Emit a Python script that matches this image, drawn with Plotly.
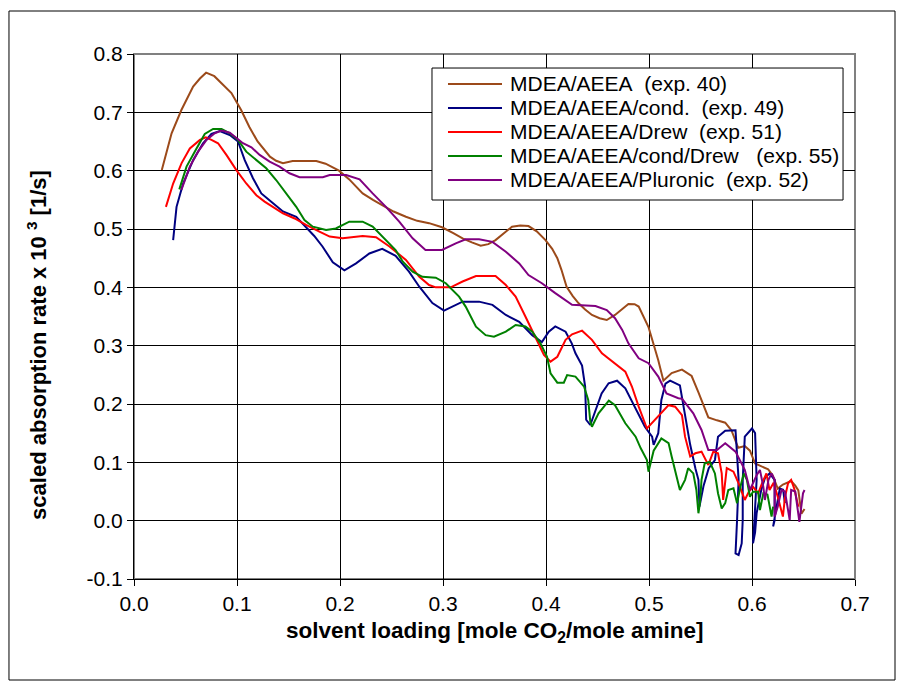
import plotly.graph_objects as go

# ---------------- data ----------------
names = [
    "MDEA/AEEA\u00a0\u00a0(exp. 40)",
    "MDEA/AEEA/cond.\u00a0\u00a0(exp. 49)",
    "MDEA/AEEA/Drew\u00a0\u00a0(exp. 51)",
    "MDEA/AEEA/cond/Drew\u00a0\u00a0\u00a0(exp. 55)",
    "MDEA/AEEA/Pluronic\u00a0\u00a0(exp. 52)",
]
colors = ["#9C4A1A", "#000080", "#FF0000", "#008000", "#800080"]

exp40 = [(0.027,0.601),(0.0365,0.664),(0.046,0.704),(0.0574,0.744),(0.064,0.758),(0.070,0.768),(0.078,0.762),(0.085,0.75),(0.0946,0.733),(0.104,0.704),(0.112,0.675),(0.12,0.65),(0.127,0.635),(0.132,0.624),(0.138,0.617),(0.1446,0.6127),(0.154,0.6167),(0.165,0.6167),(0.177,0.6167),(0.186,0.612),(0.193,0.606),(0.199,0.600),(0.209,0.585),(0.222,0.561),(0.232,0.550),(0.241,0.541),(0.252,0.530),(0.264,0.521),(0.275,0.514),(0.2865,0.51),(0.299,0.503),(0.310,0.493),(0.319,0.484),(0.328,0.477),(0.3366,0.4715),(0.344,0.474),(0.351,0.481),(0.360,0.494),(0.367,0.504),(0.375,0.506),(0.383,0.505),(0.391,0.496),(0.3995,0.481),(0.406,0.466),(0.411,0.45),(0.415,0.43),(0.420,0.401),(0.426,0.385),(0.4317,0.3727),(0.438,0.362),(0.4446,0.3527),(0.452,0.347),(0.459,0.344),(0.467,0.3527),(0.474,0.363),(0.480,0.3715),(0.486,0.371),(0.49,0.367),(0.4995,0.332),(0.509,0.275),(0.514,0.240),(0.522,0.253),(0.532,0.259),(0.5414,0.248),(0.548,0.22),(0.5576,0.177),(0.566,0.172),(0.574,0.168),(0.580,0.155),(0.5866,0.125),(0.593,0.128),(0.598,0.12),(0.603,0.098),(0.610,0.092),(0.6157,0.088),(0.620,0.078),(0.625,0.055),(0.630,0.062),(0.638,0.068),(0.642,0.06),(0.645,0.052),(0.648,0.012),(0.651,0.02)]

exp49 = [(0.038,0.481),(0.0413,0.538),(0.0477,0.578),(0.0574,0.618),(0.067,0.647),(0.0752,0.663),(0.0833,0.668),(0.093,0.661),(0.101,0.65),(0.1075,0.618),(0.1155,0.587),(0.1236,0.561),(0.135,0.544),(0.1446,0.53),(0.1575,0.521),(0.167,0.504),(0.175,0.488),(0.183,0.47),(0.193,0.443),(0.2043,0.429),(0.2156,0.441),(0.2285,0.458),(0.241,0.466),(0.254,0.454),(0.267,0.427),(0.277,0.401),(0.2897,0.373),(0.301,0.36),(0.310,0.368),(0.319,0.3755),(0.335,0.3755),(0.348,0.37),(0.361,0.3527),(0.374,0.341),(0.3866,0.318),(0.396,0.306),(0.4027,0.324),(0.409,0.333),(0.419,0.324),(0.425,0.304),(0.4286,0.287),(0.435,0.266),(0.438,0.23),(0.439,0.173),(0.443,0.164),(0.448,0.19),(0.454,0.218),(0.4608,0.2355),(0.469,0.24),(0.477,0.227),(0.4866,0.195),(0.496,0.161),(0.503,0.144),(0.5045,0.13),(0.509,0.15),(0.512,0.207),(0.516,0.235),(0.5205,0.240),(0.530,0.232),(0.535,0.184),(0.54,0.13),(0.545,0.09),(0.548,0.07),(0.549,0.024),(0.553,0.06),(0.558,0.09),(0.564,0.104),(0.567,0.144),(0.574,0.154),(0.584,0.155),(0.5855,0.115),(0.587,0.07),(0.5855,0.001),(0.584,-0.056),(0.587,-0.059),(0.59,-0.039),(0.591,0.001),(0.591,0.07),(0.593,0.144),(0.6,0.158),(0.603,0.15),(0.6045,0.07),(0.602,-0.01),(0.601,-0.039),(0.603,-0.02),(0.6045,0.013),(0.609,0.053),(0.6125,0.073),(0.617,0.081),(0.622,0.07),(0.622,0.001),(0.6205,-0.01),(0.625,0.035),(0.627,0.055),(0.6302,0.053),(0.632,0.03)]

exp51 = [(0.031,0.538),(0.038,0.578),(0.0462,0.613),(0.0542,0.638),(0.064,0.6527),(0.0697,0.657),(0.0752,0.6527),(0.0816,0.647),(0.0897,0.627),(0.0994,0.601),(0.109,0.578),(0.1188,0.558),(0.1268,0.547),(0.1365,0.5356),(0.1446,0.527),(0.156,0.518),(0.167,0.507),(0.18,0.4955),(0.19,0.487),(0.2026,0.484),(0.212,0.486),(0.222,0.488),(0.235,0.486),(0.248,0.47),(0.264,0.447),(0.277,0.418),(0.2865,0.404),(0.293,0.40),(0.3075,0.40),(0.319,0.41),(0.332,0.4195),(0.351,0.4195),(0.361,0.404),(0.3705,0.384),(0.380,0.35),(0.3898,0.3155),(0.398,0.284),(0.4044,0.2726),(0.411,0.281),(0.419,0.31),(0.4253,0.3195),(0.435,0.3257),(0.4446,0.31),(0.4543,0.287),(0.467,0.27),(0.477,0.2555),(0.4834,0.23),(0.49,0.1954),(0.498,0.158),(0.506,0.1726),(0.519,0.198),(0.5254,0.1954),(0.532,0.181),(0.535,0.144),(0.54,0.11),(0.545,0.1155),(0.551,0.1183),(0.5576,0.0955),(0.5624,0.1183),(0.567,0.1155),(0.5706,0.081),(0.572,0.0355),(0.5755,0.09),(0.582,0.084),(0.587,0.064),(0.593,0.0355),(0.597,0.05),(0.601,0.058),(0.606,0.047),(0.610,0.065),(0.614,0.081),(0.617,0.0526),(0.621,0.065),(0.625,0.041),(0.630,0.007),(0.632,0.04),(0.635,0.064),(0.638,0.07),(0.641,0.055),(0.645,0.024)]

exp55 = [(0.044,0.568),(0.051,0.607),(0.0607,0.638),(0.0687,0.663),(0.0768,0.6715),(0.085,0.6715),(0.093,0.664),(0.101,0.6527),(0.109,0.6326),(0.1188,0.618),(0.1284,0.604),(0.138,0.584),(0.1478,0.561),(0.1575,0.538),(0.1655,0.5155),(0.1736,0.504),(0.1865,0.4984),(0.196,0.501),(0.209,0.5126),(0.222,0.5126),(0.2317,0.504),(0.241,0.487),(0.254,0.464),(0.261,0.444),(0.2705,0.427),(0.280,0.418),(0.293,0.4166),(0.3027,0.407),(0.3156,0.384),(0.322,0.367),(0.332,0.3326),(0.3414,0.318),(0.3495,0.3155),(0.361,0.324),(0.3705,0.3355),(0.380,0.333),(0.3866,0.324),(0.3946,0.304),(0.401,0.281),(0.4044,0.2527),(0.411,0.2366),(0.4173,0.2366),(0.4205,0.2497),(0.4286,0.247),(0.437,0.2297),(0.441,0.207),(0.443,0.17),(0.4446,0.161),(0.451,0.184),(0.461,0.2057),(0.467,0.198),(0.477,0.167),(0.487,0.144),(0.492,0.124),(0.498,0.104),(0.4995,0.084),(0.5045,0.12),(0.512,0.141),(0.519,0.133),(0.522,0.11),(0.5285,0.06),(0.530,0.0526),(0.535,0.07),(0.538,0.09),(0.543,0.081),(0.546,0.0526),(0.548,0.0127),(0.5494,0.03),(0.551,0.07),(0.554,0.098),(0.559,0.101),(0.564,0.081),(0.567,0.047),(0.5706,0.021),(0.574,0.03),(0.577,0.0526),(0.582,0.0555),(0.5855,0.03),(0.589,0.06),(0.592,0.081),(0.595,0.07),(0.598,0.041),(0.601,0.0497),(0.606,0.0497),(0.6077,0.018),(0.611,0.047),(0.615,0.045),(0.619,0.007),(0.6205,0.024)]

exp52 = [(0.046,0.567),(0.0542,0.607),(0.0622,0.6326),(0.0704,0.6527),(0.0784,0.664),(0.085,0.6687),(0.093,0.665),(0.0994,0.6556),(0.1058,0.647),(0.114,0.64),(0.122,0.627),(0.1317,0.6155),(0.1413,0.607),(0.151,0.5955),(0.1607,0.5887),(0.1833,0.5887),(0.19,0.5927),(0.206,0.5927),(0.219,0.585),(0.2317,0.561),(0.2446,0.538),(0.2575,0.5126),(0.2705,0.484),(0.283,0.464),(0.299,0.464),(0.3124,0.4755),(0.322,0.4824),(0.335,0.4824),(0.348,0.478),(0.361,0.461),(0.374,0.441),(0.383,0.421),(0.396,0.407),(0.409,0.39),(0.4253,0.37),(0.448,0.368),(0.459,0.361),(0.467,0.347),(0.474,0.327),(0.480,0.304),(0.49,0.2784),(0.4995,0.27),(0.509,0.247),(0.517,0.218),(0.5285,0.21),(0.532,0.209),(0.543,0.184),(0.551,0.1555),(0.5576,0.121),(0.566,0.121),(0.574,0.1327),(0.584,0.1183),(0.593,0.087),(0.598,0.0526),(0.6045,0.078),(0.6077,0.087),(0.611,0.058),(0.6125,0.0355),(0.616,0.07),(0.619,0.081),(0.622,0.07),(0.622,0.007),(0.625,0.024),(0.6286,0.0526),(0.632,0.05),(0.6366,0.001),(0.638,0.0526),(0.642,0.05),(0.646,-0.002),(0.6495,0.047),(0.651,0.0526)]

series = [exp40, exp49, exp51, exp55, exp52]

x_ticks = [0.0, 0.1, 0.2, 0.3, 0.4, 0.5, 0.6, 0.7]
y_ticks = [-0.1, 0.0, 0.1, 0.2, 0.3, 0.4, 0.5, 0.6, 0.7, 0.8]

FONT = "Liberation Sans, Arial, sans-serif"

fig = go.Figure()
for name, col, pts in zip(names, colors, series):
    fig.add_trace(go.Scatter(
        x=[p[0] for p in pts], y=[p[1] for p in pts],
        mode="lines", name=name, showlegend=False,
        line=dict(color=col, width=2),
    ))

# ---- legend box (drawn by hand to match the compact Excel legend) ----
LEG_X0, LEG_X1, LEG_Y0, LEG_Y1 = 0.4133, 0.9834, 0.7219, 0.9733
SAMPLE_X0, SAMPLE_X1, TEXT_X = 0.4355, 0.5104, 0.5187
ROW_TOP, ROW_STEP = 0.9429, 0.0457

shapes = [
    dict(type="rect", xref="paper", yref="paper", x0=0, x1=1, y0=0, y1=1,
         line=dict(color="#808080", width=2), layer="below"),
    dict(type="rect", xref="paper", yref="paper",
         x0=-0.1734, x1=1.0555, y0=-0.1924, y1=1.0819,
         line=dict(color="black", width=1)),
    dict(type="rect", xref="paper", yref="paper",
         x0=LEG_X0, x1=LEG_X1, y0=LEG_Y0, y1=LEG_Y1,
         line=dict(color="black", width=1), fillcolor="white", layer="above"),
]
annotations = []
for i, (name, col) in enumerate(zip(names, colors)):
    yy = ROW_TOP - i * ROW_STEP
    shapes.append(dict(type="line", xref="paper", yref="paper",
                       x0=SAMPLE_X0, x1=SAMPLE_X1, y0=yy, y1=yy,
                       line=dict(color=col, width=2), layer="above"))
    annotations.append(dict(text=name, xref="paper", yref="paper",
                            x=TEXT_X, y=yy, xanchor="left", yanchor="middle",
                            showarrow=False,
                            font=dict(family=FONT, size=21, color="black")))

annotations += [
    dict(text="<b>solvent loading [mole CO<sub>2</sub>/mole amine]</b>",
         xref="paper", yref="paper", x=0.5, y=-0.101,
         xanchor="center", yanchor="middle", showarrow=False,
         font=dict(family=FONT, size=22.5, color="black")),
    dict(text="<b>scaled absorption rate x 10 <sup>3</sup> [1/s]</b>",
         xref="paper", yref="paper", x=-0.1345, y=0.446,
         xanchor="center", yanchor="middle", showarrow=False, textangle=-90,
         font=dict(family=FONT, size=22, color="black")),
]

fig.update_layout(
    width=900, height=687,
    margin=dict(l=134, r=45, t=54, b=108, autoexpand=False),
    paper_bgcolor="white", plot_bgcolor="white",
    font=dict(family=FONT, size=20, color="black"),
    showlegend=False,
    xaxis=dict(
        range=[0, 0.7], tickvals=x_ticks,
        ticktext=[f"{v:.1f}" for v in x_ticks],
        showgrid=True, gridcolor="black", gridwidth=1,
        zeroline=False, showline=True, linecolor="black", linewidth=1,
        ticks="outside", ticklen=6, tickcolor="black",
        tickfont=dict(size=21),
    ),
    yaxis=dict(
        range=[-0.1, 0.8], tickvals=y_ticks,
        ticktext=[f"{v:.1f}" for v in y_ticks],
        showgrid=True, gridcolor="black", gridwidth=1,
        zeroline=False, showline=True, linecolor="black", linewidth=1,
        ticks="outside", ticklen=6, tickcolor="black",
        tickfont=dict(size=21),
    ),
    shapes=shapes,
    annotations=annotations,
)

fig.write_html("out.html")
